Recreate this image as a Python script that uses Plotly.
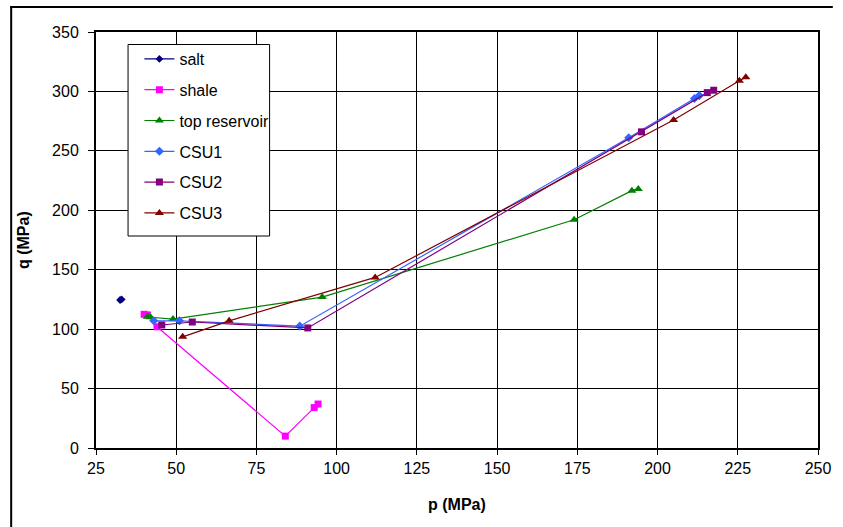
import plotly.graph_objects as go

# ---- data ----
salt_p = [32.5, 33.0]
salt_q = [124.5, 125.0]

shale_p = [40.0, 41.0, 44.0, 84.0, 93.0, 94.2]
shale_q = [112.5, 112.0, 102.0, 10.0, 34.0, 37.0]

top_p = [41.0, 42.0, 49.0, 95.5, 174.0, 192.0, 194.0]
top_q = [110.5, 110.0, 108.5, 127.0, 192.0, 216.5, 218.0]

csu1_p = [43.0, 51.0, 88.5, 191.0, 211.5, 213.0]
csu1_q = [107.0, 107.0, 102.5, 261.0, 294.0, 296.5]

csu2_p = [45.5, 55.0, 91.0, 195.0, 215.5, 217.5]
csu2_q = [103.5, 106.0, 101.0, 266.0, 299.0, 301.0]

csu3_p = [52.0, 66.5, 112.0, 205.0, 225.5, 227.5]
csu3_q = [93.5, 107.0, 143.5, 276.0, 309.0, 312.0]

x_ticks = [25, 50, 75, 100, 125, 150, 175, 200, 225, 250]
y_ticks = [0, 50, 100, 150, 200, 250, 300, 350]

series = [
    ("salt", salt_p, salt_q, "#000080", "diamond", 6),
    ("shale", shale_p, shale_q, "#FF00FF", "square", 7),
    ("top reservoir", top_p, top_q, "#008000", "triangle-up", 8),
    ("CSU1", csu1_p, csu1_q, "#3366FF", "diamond", 7),
    ("CSU2", csu2_p, csu2_q, "#800080", "square", 7),
    ("CSU3", csu3_p, csu3_q, "#800000", "triangle-up", 8),
]

FONT = "Arial, Liberation Sans, sans-serif"
FS = 16

fig = go.Figure()
for name, xs, ys, col, sym, sz in series:
    fig.add_trace(go.Scatter(
        x=xs, y=ys, name=name, mode="lines+markers", legendgroup=name,
        line=dict(color=col, width=1.2),
        marker=dict(color=col, symbol=sym, size=sz, line=dict(width=0)),
    ))

W, H = 843, 527
L, R, T, B = 96, 15, 32, 79
pw, ph = W - L - R, H - T - B

def px(xpix):
    return (xpix - L) / pw

def py(ypix):
    return (H - B - ypix) / ph

fig.update_layout(
    width=W, height=H,
    margin=dict(l=L, r=R, t=T, b=B),
    paper_bgcolor="white", plot_bgcolor="white",
    font=dict(family=FONT, size=FS, color="black"),
    showlegend=True,
    legend=dict(
        x=px(140), y=py(42), xanchor="left", yanchor="top",
        bgcolor="rgba(0,0,0,0)", borderwidth=0,
        font=dict(family=FONT, size=FS, color="black"),
        tracegroupgap=7, itemwidth=30,
    ),
    xaxis=dict(
        range=[25, 250], tickvals=x_ticks, ticktext=[str(v) for v in x_ticks],
        showgrid=True, gridcolor="black", gridwidth=1,
        showline=True, linecolor="black", linewidth=2, mirror=True,
        ticks="outside", ticklen=5, tickcolor="black", tickwidth=1,
        zeroline=False, tickfont=dict(family=FONT, size=FS),
    ),
    yaxis=dict(
        range=[0, 350], tickvals=y_ticks, ticktext=[str(v) for v in y_ticks],
        showgrid=True, gridcolor="black", gridwidth=1,
        showline=True, linecolor="black", linewidth=2, mirror=True,
        ticks="outside", ticklen=6, tickcolor="black", tickwidth=1,
        ticklabelstandoff=6,
        zeroline=False, tickfont=dict(family=FONT, size=FS),
    ),
    annotations=[
        dict(text="<b>p (MPa)</b>", xref="paper", yref="paper",
             x=0.5, y=py(504), xanchor="center", yanchor="middle",
             showarrow=False, font=dict(family=FONT, size=FS)),
        dict(text="<b>q (MPa)</b>", xref="paper", yref="paper",
             x=px(22), y=0.5, xanchor="center", yanchor="middle",
             textangle=-90, showarrow=False, font=dict(family=FONT, size=FS)),
    ],
    shapes=[
        # outer chart frame (left and top edges visible in the picture)
        dict(type="line", xref="paper", yref="paper",
             x0=px(10), x1=px(10), y0=py(527), y1=py(6),
             line=dict(color="black", width=2)),
        dict(type="line", xref="paper", yref="paper",
             x0=px(9), x1=px(843), y0=py(7), y1=py(7),
             line=dict(color="black", width=2)),
        # legend frame
        dict(type="rect", xref="paper", yref="paper",
             x0=px(128.5), x1=px(272), y0=py(236), y1=py(44.5),
             line=dict(color="black", width=1), fillcolor="white",
             layer="above"),
    ],
)

fig.write_html(
    "out.html",
    post_script=(
        "document.documentElement.style.overflow='hidden';"
        "document.body.style.overflow='hidden';"
        "document.body.style.margin='0';"
    ),
)
